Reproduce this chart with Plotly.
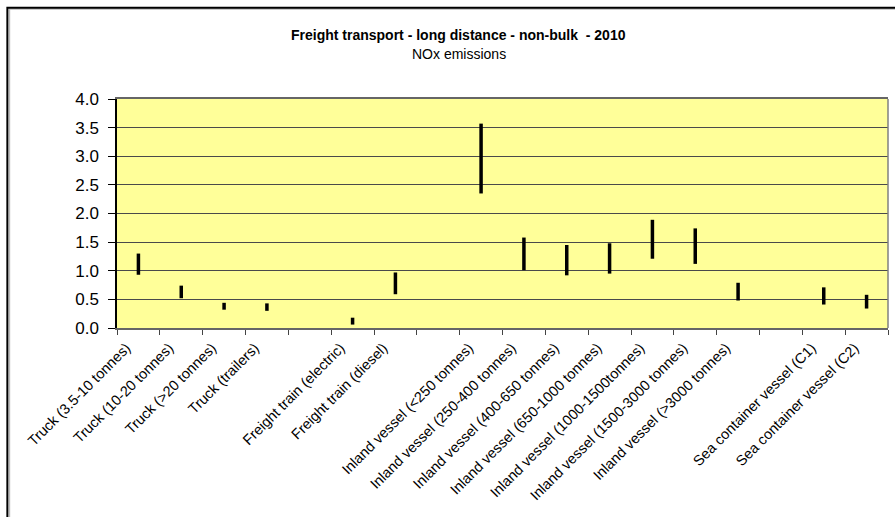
import plotly.graph_objects as go

# Categories along the x axis (blank slots separate the transport groups)
categories = [
    "Truck (3.5-10 tonnes)", "Truck (10-20 tonnes)", "Truck (>20 tonnes)", "Truck (trailers)",
    " ",
    "Freight train (electric)", "Freight train (diesel)",
    "  ",
    "Inland vessel (<250 tonnes)", "Inland vessel (250-400 tonnes)", "Inland vessel (400-650 tonnes)",
    "Inland vessel (650-1000 tonnes)", "Inland vessel (1000-1500tonnes)", "Inland vessel (1500-3000 tonnes)",
    "Inland vessel (>3000 tonnes)",
    "   ",
    "Sea container vessel (C1)", "Sea container vessel (C2)",
]

# Low / high NOx emission range per category (None = no data)
low_values = [0.93, 0.52, 0.32, 0.30, None, 0.06, 0.59, None,
              2.35, 1.01, 0.92, 0.95, 1.21, 1.12, 0.48, None, 0.41, 0.34]
high_values = [1.30, 0.74, 0.44, 0.43, None, 0.18, 0.97, None,
               3.57, 1.58, 1.45, 1.48, 1.89, 1.74, 0.79, None, 0.71, 0.58]

y_ticks = [0.0, 0.5, 1.0, 1.5, 2.0, 2.5, 3.0, 3.5, 4.0]

xs, ys = [], []
for cat, lo, hi in zip(categories, low_values, high_values):
    if lo is None or hi is None:
        continue
    xs += [cat, cat, None]
    ys += [lo, hi, None]

fig = go.Figure()
fig.add_trace(go.Scatter(
    x=xs, y=ys, mode="lines",
    line=dict(color="black", width=3.5),
    hoverinfo="skip", showlegend=False,
))

font_family = "Liberation Sans, Arial, sans-serif"

fig.update_layout(
    width=895, height=517,
    margin=dict(l=117, r=7, t=99, b=189),
    paper_bgcolor="white",
    plot_bgcolor="#FFFF99",
    font=dict(family=font_family, color="black"),
    xaxis=dict(
        type="category",
        categoryorder="array", categoryarray=categories,
        tickson="boundaries",
        ticks="outside", ticklen=5, tickcolor="#444", tickwidth=1,
        tickangle=-45,
        tickfont=dict(size=14.5, family=font_family, color="black"),
        ticklabelshift=-12, ticklabelstandoff=4,
        showline=True, linecolor="#666", linewidth=1.5, mirror=True,
        showgrid=False, zeroline=False,
        range=[-0.5, len(categories) - 0.5],
    ),
    yaxis=dict(
        range=[0, 4.0],
        tickvals=y_ticks,
        ticktext=[f"{v:.1f}" for v in y_ticks],
        ticks="outside", ticklen=7, tickcolor="black", tickwidth=1,
        tickfont=dict(size=17, family=font_family, color="black"),
        ticklabelstandoff=6,
        showline=True, linecolor="black", linewidth=1.5,
        showgrid=True, gridcolor="#4a4a4a", gridwidth=1,
        zeroline=False,
    ),
    annotations=[
        dict(text="<b>Freight transport - long distance - non-bulk  - 2010</b>",
             xref="paper", yref="paper", x=0.443, y=1.281,
             xanchor="center", yanchor="middle", showarrow=False,
             font=dict(size=14, family=font_family, color="black")),
        dict(text="NOx emissions",
             xref="paper", yref="paper", x=0.443, y=1.198,
             xanchor="center", yanchor="middle", showarrow=False,
             font=dict(size=14, family=font_family, color="black")),
    ],
    shapes=[
        # right edge of the plotting area
        dict(type="line", xref="paper", yref="paper", x0=1, x1=1, y0=0, y1=1,
             line=dict(color="#808080", width=1.5)),
        # outer chart frame (soft grey shadow, then black line)
        dict(type="rect", xref="paper", yref="paper",
             x0=-0.1395, x1=1.3, y0=-1.0, y1=1.393,
             line=dict(color="#bbbbbb", width=1.5)),
        dict(type="rect", xref="paper", yref="paper",
             x0=-0.1422, x1=1.3, y0=-1.0, y1=1.3987,
             line=dict(color="black", width=2)),
    ],
)

fig.write_html("out.html")
